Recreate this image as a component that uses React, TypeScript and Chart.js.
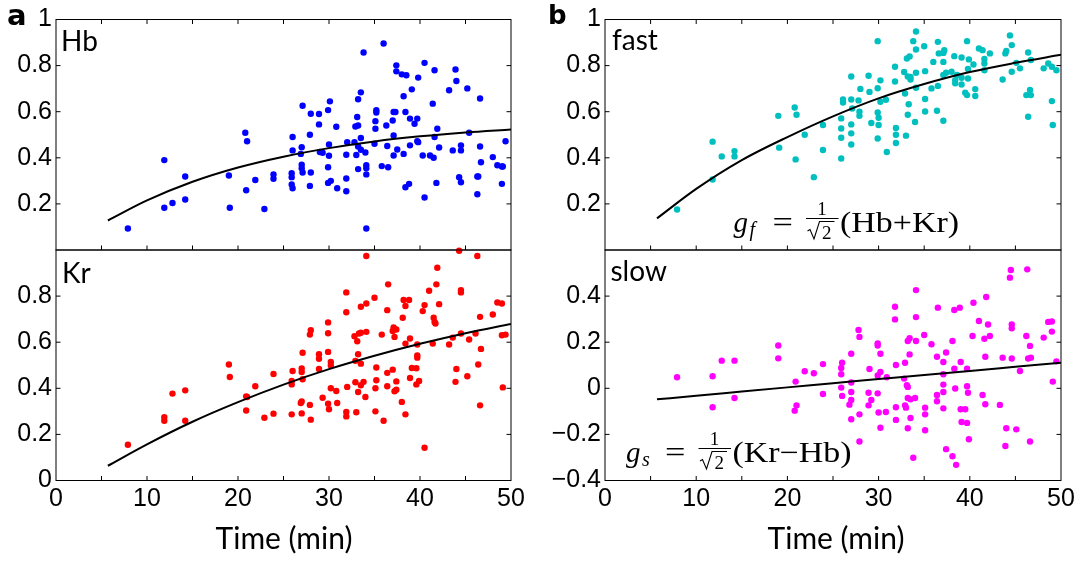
import React, { useEffect, useRef } from 'react';
import { Chart, registerables } from 'chart.js';

Chart.register(...registerables);

// ---------- data ----------
const fitTime = [5.7, 10, 15, 20, 25, 30, 35, 40, 45, 50];
const hbFit = [0.128, 0.215, 0.296, 0.358, 0.405, 0.442, 0.471, 0.493, 0.51, 0.523];
const krFit = [0.064, 0.157, 0.255, 0.34, 0.416, 0.483, 0.541, 0.593, 0.639, 0.679];
const fastFit = [0.137, 0.265, 0.39, 0.49, 0.58, 0.658, 0.72, 0.772, 0.812, 0.847];
const slowFit = [-0.048, -0.032, -0.014, 0.004, 0.022, 0.04, 0.058, 0.075, 0.093, 0.111];

const hbTime = [7.9, 11.9, 11.9, 12.8, 14.2, 14.2, 19.0, 19.1, 20.8, 21.0,
  20.9, 21.9, 22.9, 23.9, 23.9, 26.0, 26.0, 25.9, 25.9, 25.9,
  26.0, 27.1, 27.0, 26.9, 27.0, 27.0, 27.1, 27.9, 28.0, 28.0,
  27.9, 28.9, 28.9, 29.0, 29.3, 29.9, 30.1, 30.0, 30.0, 29.9,
  29.9, 30.2, 30.8, 30.9, 31.9, 31.9, 31.9, 32.0, 32.8, 32.9,
  33.1, 33.2, 33.2, 33.5, 33.5, 33.2, 33.5, 33.0, 33.2, 33.8,
  34.0, 34.1, 34.1, 34.1, 34.1, 35.0, 35.1, 35.1, 35.2, 35.2,
  35.8, 36.0, 36.3, 36.4, 36.5, 37.0, 37.1, 37.1, 37.1, 37.3,
  37.4, 37.4, 37.5, 38.0, 38.5, 38.2, 38.4, 38.2, 38.4, 38.8,
  38.9, 39.1, 38.9, 39.4, 39.7, 39.7, 39.8, 39.8, 40.3, 40.5,
  40.5, 41.1, 41.4, 41.5, 41.6, 41.6, 41.9, 41.8, 42.1, 43.2,
  43.6, 43.9, 44.0, 44.3, 44.5, 44.5, 44.5, 45.2, 45.4, 46.3,
  46.4, 46.3, 46.6, 46.6, 46.7, 48.0, 48.5, 49.0, 49.1, 49.0, 49.4];
const hbValue = [0.093, 0.39, 0.183, 0.204, 0.319, 0.219, 0.323, 0.183, 0.509, 0.472,
  0.259, 0.304, 0.178, 0.328, 0.309, 0.49, 0.432, 0.333, 0.316, 0.284,
  0.268, 0.626, 0.446, 0.417, 0.37, 0.355, 0.336, 0.5, 0.591, 0.336,
  0.278, 0.59, 0.545, 0.425, 0.422, 0.607, 0.645, 0.458, 0.409, 0.359,
  0.291, 0.3, 0.535, 0.268, 0.413, 0.31, 0.255, 0.468, 0.468, 0.536,
  0.577, 0.54, 0.654, 0.684, 0.486, 0.449, 0.435, 0.412, 0.351, 0.857,
  0.423, 0.368, 0.355, 0.328, 0.093, 0.461, 0.526, 0.559, 0.606, 0.596,
  0.364, 0.896, 0.54, 0.451, 0.359, 0.562, 0.599, 0.497, 0.41, 0.599,
  0.801, 0.775, 0.436, 0.762, 0.758, 0.667, 0.599, 0.417, 0.272, 0.287,
  0.57, 0.697, 0.454, 0.548, 0.57, 0.472, 0.748, 0.468, 0.41, 0.812,
  0.228, 0.41, 0.635, 0.4, 0.78, 0.49, 0.526, 0.291, 0.445, 0.693,
  0.432, 0.783, 0.733, 0.316, 0.294, 0.454, 0.432, 0.701, 0.509, 0.319,
  0.319, 0.242, 0.657, 0.449, 0.381, 0.403, 0.368, 0.362, 0.362, 0.287, 0.472];

const krTime = [7.9, 11.9, 11.9, 12.8, 14.2, 14.2, 19.0, 19.1, 20.9, 21.0,
  20.9, 21.9, 22.9, 23.9, 23.9, 26.0, 25.9, 25.9, 25.9, 27.1,
  27.0, 27.0, 27.1, 26.9, 27.0, 27.0, 28.0, 27.9, 27.9, 28.0,
  28.9, 28.9, 28.9, 29.3, 29.9, 29.9, 29.9, 30.2, 30.2, 30.2,
  29.9, 30.0, 30.8, 30.9, 31.9, 31.9, 32.0, 31.9, 31.9, 32.8,
  32.9, 32.9, 33.0, 33.1, 33.2, 33.2, 33.3, 33.5, 33.5, 33.5,
  33.5, 33.8, 34.1, 34.1, 34.1, 34.0, 35.0, 35.2, 35.2, 35.1,
  35.1, 35.8, 36.0, 36.4, 36.5, 36.4, 36.4, 37.0, 37.0, 37.1,
  37.2, 37.4, 37.2, 37.4, 37.4, 38.0, 38.1, 38.2, 38.4, 38.4,
  38.8, 38.9, 38.4, 39.1, 38.9, 39.6, 39.7, 39.7, 39.7, 39.6,
  39.9, 40.3, 40.5, 40.5, 41.0, 41.4, 41.5, 41.6, 41.7, 41.8,
  41.9, 42.1, 43.2, 43.6, 43.9, 44.0, 44.3, 44.5, 44.5, 44.5,
  45.2, 45.4, 46.3, 46.1, 46.4, 46.6, 46.7, 46.6, 48.0, 48.5,
  49.0, 49.0, 49.4, 49.1];
const krValue = [0.155, 0.275, 0.259, 0.377, 0.391, 0.259, 0.503, 0.449, 0.365, 0.362,
  0.304, 0.409, 0.272, 0.462, 0.29, 0.475, 0.432, 0.417, 0.287, 0.554,
  0.486, 0.471, 0.439, 0.336, 0.343, 0.291, 0.652, 0.633, 0.328, 0.264,
  0.548, 0.528, 0.484, 0.359, 0.686, 0.639, 0.558, 0.514, 0.499, 0.4,
  0.333, 0.309, 0.388, 0.336, 0.816, 0.73, 0.406, 0.297, 0.278, 0.626,
  0.519, 0.426, 0.296, 0.604, 0.548, 0.384, 0.638, 0.754, 0.507, 0.413,
  0.641, 0.428, 0.974, 0.768, 0.645, 0.362, 0.793, 0.49, 0.435, 0.4,
  0.3, 0.633, 0.259, 0.739, 0.851, 0.467, 0.409, 0.481, 0.649, 0.664,
  0.623, 0.655, 0.387, 0.394, 0.43, 0.341, 0.706, 0.783, 0.757, 0.287,
  0.783, 0.616, 0.594, 0.488, 0.445, 0.487, 0.59, 0.543, 0.533, 0.417,
  0.432, 0.735, 0.761, 0.142, 0.823, 0.594, 0.706, 0.688, 0.681, 0.851,
  0.923, 0.765, 0.59, 0.62, 0.428, 0.484, 0.997, 0.826, 0.816, 0.638,
  0.452, 0.612, 0.974, 0.638, 0.503, 0.71, 0.571, 0.326, 0.72, 0.772,
  0.768, 0.63, 0.633, 0.404];

const fastTime = [7.9, 11.8, 11.8, 12.8, 14.2, 14.2, 19.0, 19.1, 20.8, 21.0,
  20.9, 21.9, 22.9, 23.9, 23.9, 25.9, 25.9, 25.9, 25.9, 26.1,
  26.1, 27.0, 27.0, 27.0, 27.0, 27.0, 27.1, 27.8, 27.9, 27.9,
  28.0, 28.9, 29.0, 29.2, 29.9, 29.9, 29.9, 30.0, 30.0, 29.9,
  30.2, 30.2, 30.8, 30.9, 31.8, 31.8, 31.9, 31.9, 31.9, 32.8,
  32.9, 33.0, 33.1, 33.2, 33.4, 33.3, 33.5, 33.5, 33.2, 33.8,
  34.1, 34.1, 34.1, 34.1, 34.0, 35.0, 35.1, 35.1, 35.1, 35.8,
  36.0, 36.5, 36.5, 36.4, 36.6, 37.1, 37.1, 37.2, 37.1, 37.1,
  37.4, 38.0, 38.3, 38.4, 38.4, 38.6, 39.1, 39.1, 39.1, 39.5,
  39.7, 39.7, 39.8, 39.8, 39.9, 40.4, 40.6, 40.6, 41.0, 41.4,
  41.6, 41.6, 41.6, 42.2, 43.6, 43.9, 44.0, 44.4, 44.6, 44.6,
  45.1, 45.5, 46.2, 46.4, 46.4, 46.6, 46.7, 46.7, 48.1, 48.6,
  49.0, 49.5, 49.0, 49.1];
const fastValue = [0.176, 0.47, 0.306, 0.406, 0.429, 0.406, 0.582, 0.444, 0.618, 0.587,
  0.393, 0.5, 0.316, 0.542, 0.434, 0.571, 0.527, 0.487, 0.397, 0.653,
  0.64, 0.545, 0.506, 0.458, 0.753, 0.653, 0.614, 0.649, 0.6, 0.582,
  0.699, 0.756, 0.686, 0.551, 0.906, 0.702, 0.597, 0.574, 0.542, 0.484,
  0.736, 0.643, 0.652, 0.425, 0.795, 0.731, 0.5, 0.464, 0.529, 0.772,
  0.679, 0.496, 0.831, 0.753, 0.84, 0.632, 0.751, 0.74, 0.587, 0.906,
  0.948, 0.87, 0.769, 0.704, 0.555, 0.884, 0.776, 0.655, 0.601, 0.701,
  0.816, 0.903, 0.712, 0.604, 0.853, 0.855, 0.816, 0.867, 0.561, 0.759,
  0.769, 0.773, 0.841, 0.737, 0.723, 0.759, 0.835, 0.747, 0.718, 0.682,
  0.672, 0.906, 0.785, 0.744, 0.827, 0.805, 0.698, 0.668, 0.874, 0.867,
  0.829, 0.809, 0.78, 0.853, 0.74, 0.853, 0.864, 0.931, 0.889, 0.773,
  0.812, 0.788, 0.672, 0.578, 0.857, 0.694, 0.672, 0.824, 0.788, 0.809,
  0.795, 0.78, 0.646, 0.542];

const slowTime = [7.9, 11.8, 11.8, 12.8, 14.2, 14.2, 19.0, 19.0, 20.8, 20.9,
  21.0, 21.9, 22.9, 23.9, 23.9, 26.0, 25.9, 25.9, 25.9, 26.0,
  27.0, 27.0, 27.0, 26.8, 27.0, 27.0, 27.8, 27.9, 27.9, 27.9,
  28.9, 28.9, 29.0, 29.2, 29.9, 29.9, 29.9, 29.9, 30.0, 30.2,
  30.2, 30.2, 30.9, 30.8, 31.8, 31.8, 31.9, 31.9, 31.9, 32.8,
  32.9, 32.9, 33.0, 33.1, 33.2, 33.2, 33.2, 33.2, 33.4, 33.4,
  33.5, 33.5, 33.8, 34.1, 34.1, 34.1, 34.0, 35.0, 35.1, 35.1,
  35.1, 35.8, 36.5, 36.4, 36.4, 36.4, 37.1, 37.1, 37.1, 37.1,
  37.1, 37.4, 37.4, 38.1, 38.3, 38.3, 38.4, 38.1, 38.5, 38.9,
  39.0, 39.0, 39.1, 39.5, 39.7, 39.7, 39.8, 39.7, 39.9, 40.4,
  40.3, 41.0, 41.4, 41.6, 41.8, 41.7, 41.7, 42.0, 42.2, 43.3,
  43.6, 44.0, 43.9, 44.4, 44.5, 44.6, 44.6, 44.6, 45.1, 45.5,
  46.2, 46.3, 46.4, 46.6, 46.7, 46.6, 48.1, 48.6, 49.0, 49.0,
  49.1, 49.5];
const slowValue = [0.048, 0.052, -0.082, 0.12, 0.12, -0.042, 0.186, 0.13, -0.097, 0.029,
  -0.074, 0.074, 0.065, 0.105, -0.025, 0.111, 0.088, 0.061, 0.003, -0.033,
  0.025, -0.016, -0.051, -0.071, 0.15, -0.134, 0.253, 0.223, -0.113, -0.231,
  -0.019, -0.074, 0.084, -0.051, 0.195, 0.186, 0.056, -0.022, -0.105, 0.15,
  0.071, -0.171, 0.048, -0.103, 0.354, 0.299, 0.101, -0.082, -0.137, 0.042,
  0.111, -0.074, -0.084, 0.013, 0.205, 0.006, -0.042, -0.173, 0.217, 0.147,
  -0.048, -0.129, -0.301, 0.426, 0.309, 0.205, -0.042, 0.231, -0.084, -0.113,
  -0.182, 0.191, 0.35, 0.137, -0.029, -0.056, 0.114, 0.061, 0.016, -0.016,
  -0.087, -0.264, 0.155, 0.205, 0.34, 0.085, -0.001, -0.295, -0.332, 0.35,
  0.114, -0.091, -0.146, -0.091, 0.009, 0.085, -0.019, -0.15, -0.221, 0.371,
  0.227, 0.292, -0.029, 0.215, 0.396, 0.137, -0.069, 0.277, 0.227, -0.072,
  0.133, -0.173, -0.25, 0.48, 0.513, 0.277, 0.26, 0.129, -0.178, 0.075,
  0.227, 0.516, 0.129, 0.184, 0.133, -0.231, 0.22, 0.288, 0.29, 0.246,
  0.029, 0.117];

const xTickValues = [0, 10, 20, 30, 40, 50];
const panelNames = ['Hb', 'Kr', 'fast', 'slow'];
const xTitle = 'Time (min)';

// ---------- layout / style ----------
const TICK_FONT = { family: '"Liberation Sans", Arial, sans-serif', size: 25 };
const LABEL_FONT = '28px Lato, "Open Sans", sans-serif';
const TITLE_FONT = '30px Lato, "Open Sans", sans-serif';
const SERIF = '"Liberation Serif", "DejaVu Serif", serif';

type TextItem = { text: string; x: number; y: number; font: string; align?: CanvasTextAlign };
type Formula = { gx: number; base: number; sub: string; inner: string };
type Panel = {
  left: number; top: number; width: number; height: number;
  area: { l: number; t: number; r: number; b: number };
  time: number[]; value: number[]; fit: number[]; color: string;
  yMin: number; yMax: number; hide: number;
  showX: boolean; topTicks: boolean;
  texts: TextItem[]; formula?: Formula;
};

const TOP = 19.5, MID = 250, BOT = 480.5;
const LL = 56, LR = 511, RL = 605, RR = 1061;

const panels: Panel[] = [
  {
    left: 0, top: 0, width: 540, height: 272,
    area: { l: LL, t: TOP, r: LR, b: MID },
    time: hbTime, value: hbValue, fit: hbFit, color: '#0000ff',
    yMin: 0, yMax: 1, hide: 0, showX: false, topTicks: true,
    texts: [
      { text: 'a', x: 7, y: 24.5, font: 'bold 29px "DejaVu Sans", sans-serif' },
      { text: panelNames[0], x: 61, y: 51, font: LABEL_FONT },
    ],
  },
  {
    left: 0, top: 228, width: 540, height: 337,
    area: { l: LL, t: MID, r: LR, b: BOT },
    time: krTime, value: krValue, fit: krFit, color: '#ff0000',
    yMin: 0, yMax: 1, hide: 1, showX: true, topTicks: false,
    texts: [
      { text: panelNames[1], x: 62, y: 282.5, font: LABEL_FONT },
      { text: xTitle, x: 284, y: 549, font: TITLE_FONT, align: 'center' },
    ],
  },
  {
    left: 540, top: 0, width: 544, height: 272,
    area: { l: RL, t: TOP, r: RR, b: MID },
    time: fastTime, value: fastValue, fit: fastFit, color: 'rgb(0,191,191)',
    yMin: 0, yMax: 1, hide: 0, showX: false, topTicks: true,
    texts: [
      { text: 'b', x: 548, y: 24, font: 'bold 26px "DejaVu Sans", sans-serif' },
      { text: panelNames[2], x: 612, y: 50, font: LABEL_FONT },
    ],
    formula: { gx: 733.5, base: 232, sub: 'f', inner: '(Hb+Kr)' },
  },
  {
    left: 540, top: 228, width: 544, height: 337,
    area: { l: RL, t: MID, r: RR, b: BOT },
    time: slowTime, value: slowValue, fit: slowFit, color: '#ff00ff',
    yMin: -0.4, yMax: 0.6, hide: 0.6, showX: true, topTicks: false,
    texts: [
      { text: panelNames[3], x: 610.5, y: 281, font: LABEL_FONT },
      { text: xTitle, x: 836, y: 549, font: TITLE_FONT, align: 'center' },
    ],
    formula: { gx: 626, base: 462, sub: 's', inner: '(Kr\u2212Hb)' },
  },
];

function drawFormula(ctx: CanvasRenderingContext2D, ox: number, oy: number, f: Formula) {
  const X = (v: number) => v - ox;
  const Y = (v: number) => v - oy;
  const { gx, base } = f;
  ctx.save();
  ctx.fillStyle = '#000';
  ctx.strokeStyle = '#000';
  ctx.textBaseline = 'alphabetic';
  ctx.textAlign = 'left';
  ctx.font = `italic 29px ${SERIF}`;
  ctx.fillText('g', X(gx), Y(base));
  ctx.font = `italic 20px ${SERIF}`;
  ctx.fillText(f.sub, X(gx + 16), Y(base + 4));
  ctx.font = `29px ${SERIF}`;
  ctx.textAlign = 'center';
  ctx.save();
  ctx.translate(X(gx + 49.2), Y(base));
  ctx.scale(1.25, 1);
  ctx.fillText('=', 0, 0);
  ctx.restore();
  ctx.font = `19px ${SERIF}`;
  ctx.fillText('1', X(gx + 88.5), Y(base - 17));
  ctx.lineWidth = 1;
  ctx.beginPath();
  ctx.moveTo(X(gx + 72.5), Y(base - 13.5));
  ctx.lineTo(X(gx + 105), Y(base - 13.5));
  ctx.stroke();
  ctx.lineWidth = 1.1;
  ctx.beginPath();
  ctx.moveTo(X(gx + 74), Y(base - 1));
  ctx.lineTo(X(gx + 76.5), Y(base - 2.5));
  ctx.lineTo(X(gx + 80.5), Y(base + 7));
  ctx.lineTo(X(gx + 86), Y(base - 10.5));
  ctx.lineTo(X(gx + 101), Y(base - 10.5));
  ctx.stroke();
  ctx.textAlign = 'left';
  ctx.fillText('2', X(gx + 88.5), Y(base + 7));
  ctx.font = `29px ${SERIF}`;
  ctx.save();
  ctx.translate(X(gx + 106.5), Y(base));
  ctx.scale(1.17, 1);
  ctx.fillText(f.inner, 0, 0);
  ctx.restore();
  ctx.restore();
}

function fmtY(v: number, hide: number): string {
  const r = Math.round(v * 10) / 10;
  if (Math.abs(r - hide) < 1e-6) return '';
  if (r === 0) return '0';
  return r < 0 ? '\u2212' + String(Math.abs(r)) : String(r);
}

function buildChart(canvas: HTMLCanvasElement, p: Panel): Chart {
  const framePlugin = {
    id: 'frame',
    afterDraw(chart: any) {
      const ctx: CanvasRenderingContext2D = chart.ctx;
      const a = chart.chartArea;
      const xs = chart.scales.x;
      const ys = chart.scales.y;
      ctx.save();
      ctx.strokeStyle = '#000';
      ctx.lineWidth = 1;
      ctx.strokeRect(a.left, a.top, a.right - a.left, a.bottom - a.top);
      const TL = 4.5;
      ctx.beginPath();
      for (let v = 5; v < 50; v += 5) {
        const px = xs.getPixelForValue(v);
        ctx.moveTo(px, a.bottom);
        ctx.lineTo(px, a.bottom - TL);
        if (p.topTicks) {
          ctx.moveTo(px, a.top);
          ctx.lineTo(px, a.top + TL);
        }
      }
      const n = Math.round((p.yMax - p.yMin) / 0.2);
      for (let i = 1; i < n; i++) {
        const py = ys.getPixelForValue(p.yMin + i * 0.2);
        ctx.moveTo(a.left, py);
        ctx.lineTo(a.left + TL, py);
        ctx.moveTo(a.right, py);
        ctx.lineTo(a.right - TL, py);
      }
      ctx.stroke();
      ctx.fillStyle = '#000';
      ctx.textBaseline = 'alphabetic';
      for (const t of p.texts) {
        ctx.font = t.font;
        ctx.textAlign = t.align || 'left';
        ctx.fillText(t.text, t.x - p.left, t.y - p.top);
      }
      if (p.formula) drawFormula(ctx, p.left, p.top, p.formula);
      ctx.restore();
    },
  };

  return new Chart(canvas, {
    type: 'scatter',
    data: {
      datasets: [
        {
          type: 'line',
          data: fitTime.map((t, i) => ({ x: t, y: p.fit[i] })),
          borderColor: '#000',
          borderWidth: 2,
          pointRadius: 0,
          pointHoverRadius: 0,
          showLine: true,
          fill: false,
          tension: 0.4,
          cubicInterpolationMode: 'monotone',
          order: 0,
        } as any,
        {
          type: 'scatter',
          data: p.time.map((t, i) => ({ x: t, y: p.value[i] })),
          backgroundColor: p.color,
          borderColor: p.color,
          borderWidth: 0,
          pointRadius: 3.2,
          pointHoverRadius: 3.2,
          clip: false,
          order: 1,
        } as any,
      ],
    },
    options: {
      responsive: false,
      animation: false,
      devicePixelRatio: 1,
      events: [],
      layout: {
        autoPadding: false,
        padding: {
          left: 0,
          top: p.area.t - p.top,
          right: p.left + p.width - p.area.r,
          bottom: 0,
        },
      },
      plugins: {
        legend: { display: false },
        tooltip: { enabled: false },
        title: { display: false },
      },
      scales: {
        x: {
          type: 'linear',
          position: 'bottom',
          min: 0,
          max: 50,
          grid: { display: false, drawTicks: false },
          border: { display: false },
          afterBuildTicks: (s: any) => {
            s.ticks = xTickValues.map((v) => ({ value: v }));
          },
          ticks: {
            display: p.showX,
            padding: 4,
            font: TICK_FONT,
            color: '#000',
            maxRotation: 0,
            autoSkip: false,
            callback: (v: any) => String(v),
          },
          afterFit: (s: any) => {
            s.height = p.top + p.height - p.area.b;
          },
        },
        y: {
          type: 'linear',
          position: 'left',
          min: p.yMin,
          max: p.yMax,
          grid: { display: false, drawTicks: false },
          border: { display: false },
          ticks: {
            stepSize: 0.2,
            padding: 4,
            font: TICK_FONT,
            color: '#000',
            autoSkip: false,
            callback: (v: any) => fmtY(Number(v), p.hide),
          },
          afterFit: (s: any) => {
            s.width = p.area.l - p.left;
          },
        },
      },
    } as any,
    plugins: [framePlugin],
  });
}

export default function App() {
  const canvases = useRef<(HTMLCanvasElement | null)[]>([]);
  useEffect(() => {
    const charts = panels.map((p, i) => buildChart(canvases.current[i] as HTMLCanvasElement, p));
    return () => charts.forEach((c) => c.destroy());
  }, []);
  return (
    <div
      style={{
        position: 'absolute',
        left: 0,
        top: 0,
        width: 1084,
        height: 565,
        background: '#fff',
        overflow: 'hidden',
      }}
    >
      {panels.map((p, i) => (
        <canvas
          key={i}
          ref={(el) => {
            canvases.current[i] = el;
          }}
          width={p.width}
          height={p.height}
          style={{ position: 'absolute', left: p.left, top: p.top, width: p.width, height: p.height }}
        />
      ))}
    </div>
  );
}
